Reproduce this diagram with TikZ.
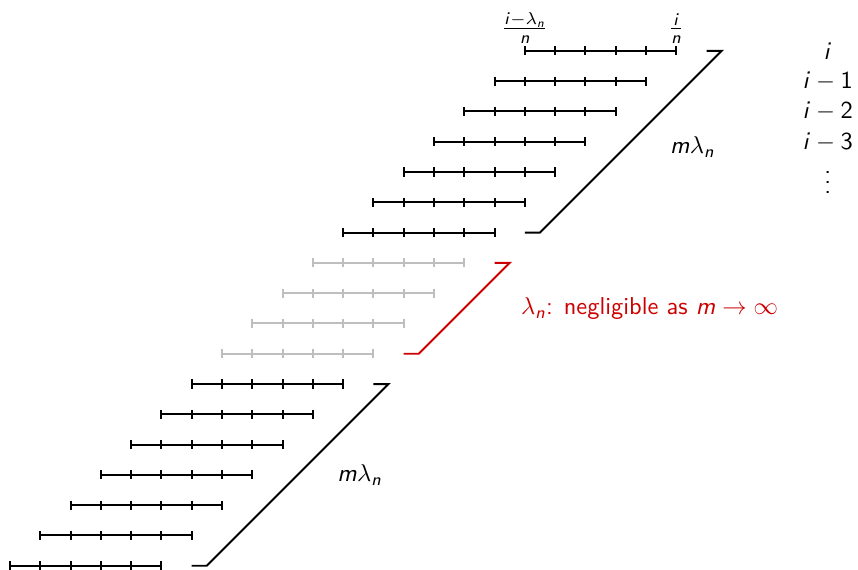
\documentclass[tikz,border=0pt]{standalone}
\DeclareSymbolFont{sfit}{OT1}{cmss}{m}{sl}
\DeclareSymbolFont{sfup}{OT1}{cmss}{m}{n}
\DeclareMathSymbol{i}{\mathalpha}{sfit}{`i}
\DeclareMathSymbol{m}{\mathalpha}{sfit}{`m}
\DeclareMathSymbol{n}{\mathalpha}{sfit}{`n}
\DeclareMathSymbol{1}{\mathalpha}{sfup}{`1}
\DeclareMathSymbol{2}{\mathalpha}{sfup}{`2}
\DeclareMathSymbol{3}{\mathalpha}{sfup}{`3}
\definecolor{myred}{RGB}{204,0,0}
\definecolor{mygray}{RGB}{190,190,190}
\tikzset{
  seg/.style={line width=0.8pt, line cap=butt},
  segblack/.style={seg, black},
  seggray/.style={seg, mygray},
  brace/.style={line width=0.8pt, line join=miter},
  lbl/.style={inner sep=0pt},
}
\begin{document}
\begin{tikzpicture}[x=0.436cm,y=0.436cm,font=\sffamily]
\useasboundingbox (-0.33,-0.13) rectangle (28,18.68);
% rows
\foreach \k in {0,...,6,11,12,...,17}{
  \draw[segblack] (\k,\k) -- (\k+5,\k);
  \foreach \t in {0,...,5}{\draw[segblack] (\k+\t,\k+0.15) -- (\k+\t,\k-0.15);}
}
\foreach \k in {7,...,10}{
  \draw[seggray] (\k,\k) -- (\k+5,\k);
  \foreach \t in {0,...,5}{\draw[seggray] (\k+\t,\k+0.15) -- (\k+\t,\k-0.15);}
}
% brackets
\coordinate (b1a) at (6,0);  \coordinate (b1b) at (6.5,0);
\coordinate (b1c) at (12.5,6); \coordinate (b1d) at (12,6);
\draw[brace,black] (b1a) -- (b1b) -- (b1c) -- (b1d);
\coordinate (b2a) at (13,7);  \coordinate (b2b) at (13.5,7);
\coordinate (b2c) at (16.5,10); \coordinate (b2d) at (16,10);
\draw[brace,myred] (b2a) -- (b2b) -- (b2c) -- (b2d);
\coordinate (b3a) at (17,11);  \coordinate (b3b) at (17.5,11);
\coordinate (b3c) at (23.5,17); \coordinate (b3d) at (23,17);
\draw[brace,black] (b3a) -- (b3b) -- (b3c) -- (b3d);
% labels
\node[lbl] (mlow) at (11.55,3.0) {$m\lambda_n$};
\node[lbl] (mhigh) at (22.54,13.83) {$m\lambda_n$};
\node[lbl,anchor=west,text=myred] (negl) at (16.86,8.48) {$\lambda_n$: negligible as $m\to\infty$};
\node[lbl] (fracL) at (17,17.75) {$\frac{i-\lambda_n}{n}$};
\node[lbl] (fracR) at (22,17.75) {$\frac{i}{n}$};
\node[lbl] (r0) at (27,17) {$i$};
\node[lbl] (r1) at (27,16) {$i-1$};
\node[lbl] (r2) at (27,15) {$i-2$};
\node[lbl] (r3) at (27,14) {$i-3$};
\node[lbl] (rdots) at (27,12.9) {$\vdots$};
\end{tikzpicture}
\end{document}
